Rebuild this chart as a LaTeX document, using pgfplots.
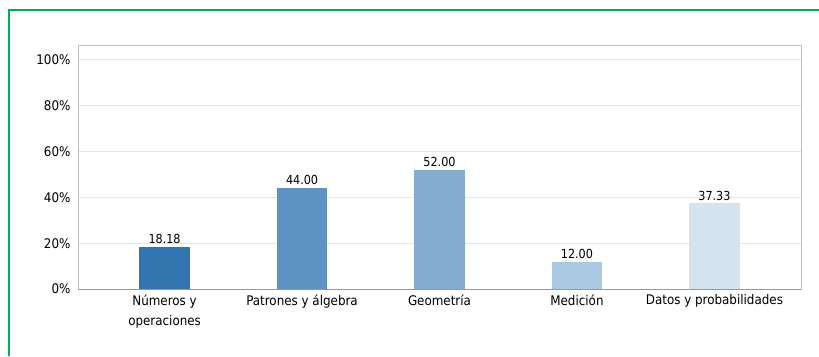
\documentclass[border=0pt]{standalone}
\usepackage{pgfplots}
\pgfplotsset{compat=1.18}
\usepackage{fontspec}
\setmainfont{DejaVu Sans Condensed}
\definecolor{cA}{RGB}{50,117,176}
\definecolor{cB}{RGB}{92,147,196}
\definecolor{cC}{RGB}{133,171,207}
\definecolor{cD}{RGB}{170,200,226}
\definecolor{cE}{RGB}{213,227,239}
\definecolor{frm}{RGB}{190,190,190}
\definecolor{grd}{RGB}{230,230,230}
\definecolor{grn}{RGB}{0,176,80}
\begin{document}
\begin{tikzpicture}[x=1bp,y=1bp]
\useasboundingbox (0,0) rectangle (819,356);
\draw[grn,line width=2bp] (9,0) -- (9,346) -- (819,346);
\begin{axis}[
  at={(78bp,67bp)}, anchor=south west,
  scale only axis, width=723bp, height=244bp,
  xmin=-0.63, xmax=4.63, ymin=0, ymax=106.5,
  ybar, bar width=0.37, bar shift=0pt,
  xtick={0,1,2,3,4},
  xticklabels={{Números y\\operaciones},{Patrones y álgebra},{Geometría},{Medición},{Datos y probabilidades}},
  xticklabel style={align=center, font=\fontsize{13.3}{20.5}\selectfont, yshift=-2bp},
  ytick={0,20,40,60,80,100},
  yticklabel={\pgfmathprintnumber{\tick}\%},
  /pgf/number format/assume math mode=true,
  yticklabel style={font=\fontsize{13.3}{16}\selectfont, xshift=-4bp},
  major tick length=0pt,
  ymajorgrids, grid style={grd, line width=0.8bp},
  axis line style={frm, line width=0.9bp},
  nodes near coords={\pgfmathprintnumber[fixed,fixed zerofill,precision=2]{\pgfplotspointmeta}},
  nodes near coords style={font=\fontsize{12.5}{15}\selectfont, inner sep=1.5bp, yshift=1.5bp},
  every axis plot/.append style={draw=none},
]
\addplot[fill=cA] coordinates {(0,18.18)};
\addplot[fill=cB] coordinates {(1,44.00)};
\addplot[fill=cC] coordinates {(2,52.00)};
\addplot[fill=cD] coordinates {(3,12.00)};
\addplot[fill=cE] coordinates {(4,37.33)};
\draw[gray!80, line width=0.9bp] (axis cs:-0.63,0) -- (axis cs:4.63,0);
\end{axis}
\end{tikzpicture}
\end{document}
